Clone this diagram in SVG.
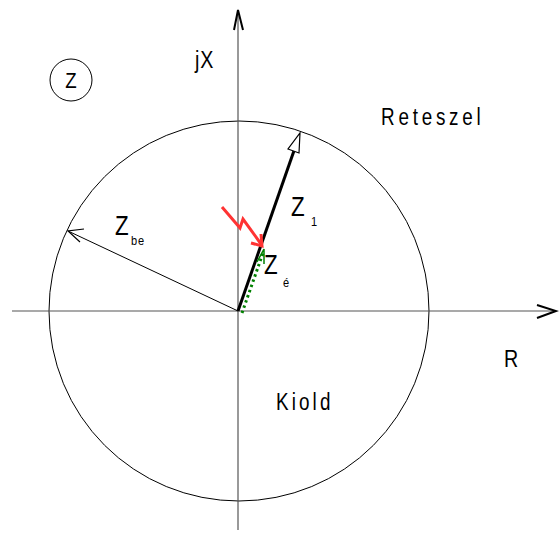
<svg xmlns="http://www.w3.org/2000/svg" width="559" height="533" viewBox="0 0 559 533">
<style>
.t{font-family:"Liberation Sans",Arial,sans-serif;fill:#000}
.ax{stroke:#555;stroke-width:1.2;fill:none}
.ah{stroke:#000;stroke-width:2;fill:none}
</style>
<rect width="559" height="533" fill="#fff"/>
<g id="circle"><circle cx="239" cy="311" r="190" fill="none" stroke="#000" stroke-width="1"/></g>
<g id="axes">
<line class="ax" x1="238" y1="10" x2="238" y2="530"/>
<line class="ax" x1="12" y1="311" x2="555" y2="311"/>
<polyline class="ah" points="234,30 238,10 243,30"/>
<polyline class="ah" points="537,305 556,311 537,318"/>
</g>
<g id="connectors">
<line x1="238" y1="311" x2="68" y2="231" stroke="#000" stroke-width="1"/>
<polyline points="84,229 68,231 80,242" stroke="#000" stroke-width="1.2" fill="none"/>
<line x1="238" y1="311" x2="296" y2="145" stroke="#000" stroke-width="3"/>
<polygon points="300,133 299,153 288,149" fill="#fff" stroke="#000" stroke-width="1.2"/>
<line x1="242" y1="313" x2="263" y2="253" stroke="#008000" stroke-width="3" stroke-dasharray="2.5,3"/>
<polyline points="257,262 264,249 264,264" stroke="#008000" stroke-width="1.5" fill="none"/>
<polyline points="222,207 240,228 243,219 261,244" stroke="#ff3333" stroke-width="3" fill="none"/>
<polyline points="251,243 262,246 261,234" stroke="#ff3333" stroke-width="3" fill="none"/>
</g>
<g id="zcircle"><circle cx="71" cy="80" r="21" fill="none" stroke="#000" stroke-width="1"/>
<text class="t" transform="translate(71,88) scale(0.85,1)" font-size="22" text-anchor="middle">Z</text></g>
<g id="labels">
<text class="t" transform="translate(195,68) scale(0.82,1)" font-size="24" letter-spacing="1">jX</text>
<text class="t" transform="translate(381,125) scale(0.82,1)" font-size="23" letter-spacing="4.6">Reteszel</text>
<text class="t" transform="translate(504,367) scale(0.82,1)" font-size="24">R</text>
<text class="t" transform="translate(276,410) scale(0.82,1)" font-size="23" letter-spacing="3.8">Kiold</text>
<text class="t" transform="translate(115,235) scale(0.8,1)" font-size="28">Z</text>
<text class="t" transform="translate(131,245) scale(0.85,1)" font-size="13" letter-spacing="1">be</text>
<text class="t" transform="translate(291,216) scale(0.8,1)" font-size="28">Z</text>
<text class="t" transform="translate(311,226) scale(0.85,1)" font-size="13">1</text>
<text class="t" transform="translate(264,274) scale(0.8,1)" font-size="28">Z</text>
<text class="t" transform="translate(283,287) scale(0.85,1)" font-size="13">é</text>
</g>
</svg>
